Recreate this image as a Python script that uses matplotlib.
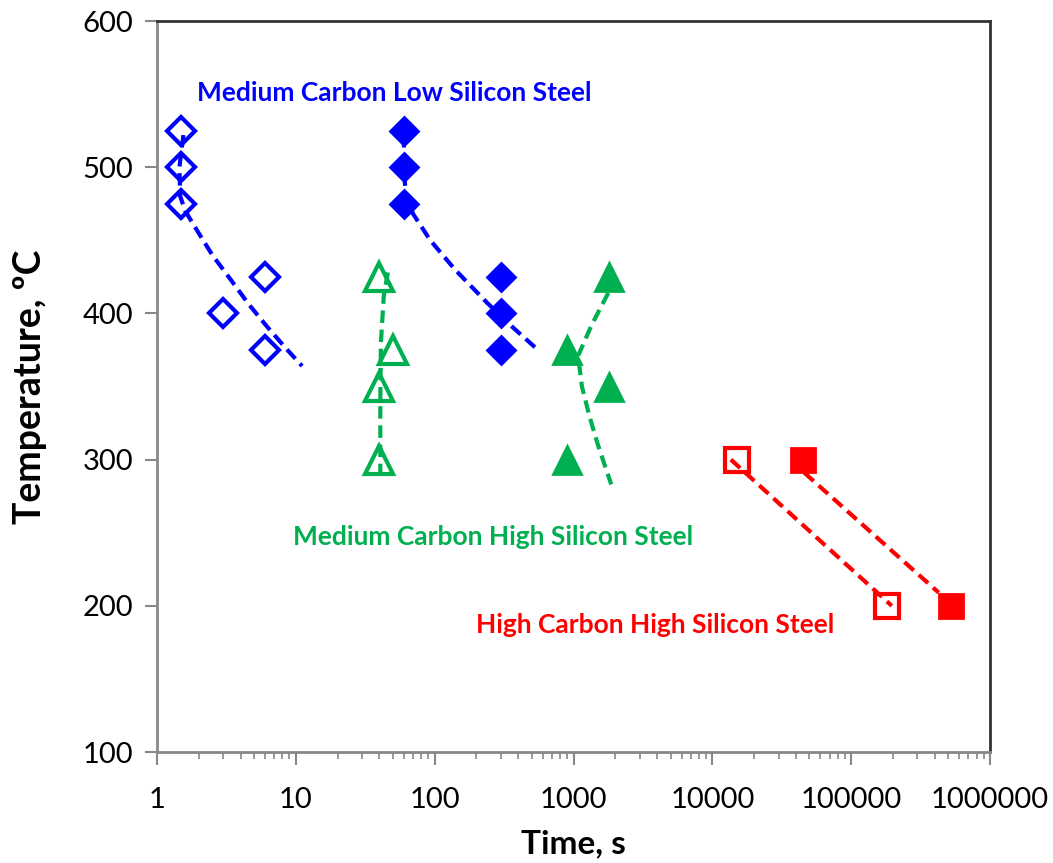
import numpy as np
import matplotlib
matplotlib.use('Agg')
import matplotlib.pyplot as plt
from matplotlib.ticker import LogLocator, FixedLocator, FuncFormatter

# Medium carbon, low silicon
mcls_open_t = [1.5, 1.5, 1.5, 3, 6, 6]
mcls_open_T = [525, 500, 475, 400, 425, 375]
mcls_fill_t = [60, 60, 60, 300, 300, 300]
mcls_fill_T = [525, 500, 475, 425, 400, 375]
# Medium carbon, high silicon
mchs_open_t = [40, 50, 40, 40]
mchs_open_T = [425, 375, 350, 300]
mchs_fill_t = [1800, 900, 1800, 900]
mchs_fill_T = [425, 375, 350, 300]
# High carbon, high silicon
hchs_open_t = [15000, 180000]
hchs_open_T = [300, 200]
hchs_fill_t = [45000, 520000]
hchs_fill_T = [300, 200]

# trend lines (dashed)
tr_mcls_open_t = [1.55, 1.45, 1.47, 1.6, 1.85, 2.5, 3.4, 4.6, 6.2, 8.5, 11.1]
tr_mcls_open_T = [522, 500, 480, 470, 460, 440, 423, 406, 391, 376, 364]
tr_mcls_fill_t = [60, 60, 62, 70, 93, 140, 240, 370, 540]
tr_mcls_fill_T = [522, 500, 480, 468, 450, 430, 407, 390, 376]
tr_mchs_open_t = [46, 43, 41, 40.6, 40.6]
tr_mchs_open_T = [428, 412, 380, 340, 291]
tr_mchs_fill_t = [1780, 1350, 1080, 1150, 1300, 1500, 1870]
tr_mchs_fill_T = [414, 392, 371, 350, 330, 310, 283]
tr_hchs_open_t = [13600, 196000]
tr_hchs_open_T = [300, 200]
tr_hchs_fill_t = [46000, 427000]
tr_hchs_fill_T = [291, 209]

blue = '#0000FF'
green = '#00B050'
red = '#FF0000'

plt.rcParams['font.family'] = ['Lato', 'DejaVu Sans']

fig = plt.figure(figsize=(10.53, 8.63), dpi=100)
ax = fig.add_axes([157/1053, 1-752/863, (990-157)/1053, (752-21)/863])

dash = dict(ls=(0, (3, 1.6)), lw=3)
ax.plot(tr_mcls_open_t, tr_mcls_open_T, color=blue, **dash)
ax.plot(tr_mcls_fill_t, tr_mcls_fill_T, color=blue, **dash)
ax.plot(tr_mchs_open_t, tr_mchs_open_T, color=green, **dash)
ax.plot(tr_mchs_fill_t, tr_mchs_fill_T, color=green, **dash)
ax.plot(tr_hchs_open_t, tr_hchs_open_T, color=red, **dash)
ax.plot(tr_hchs_fill_t, tr_hchs_fill_T, color=red, **dash)

ax.plot(mcls_open_t, mcls_open_T, 'D', ms=14, mfc='none', mec=blue, mew=3, ls='none')
ax.plot(mcls_fill_t, mcls_fill_T, 'D', ms=14, mfc=blue, mec=blue, mew=2, ls='none')
ax.plot(mchs_open_t, mchs_open_T, '^', ms=20, mfc='none', mec=green, mew=3, ls='none')
ax.plot(mchs_fill_t, mchs_fill_T, '^', ms=20, mfc=green, mec=green, mew=2, ls='none')
ax.plot(hchs_open_t, hchs_open_T, 's', ms=17, mfc='none', mec=red, mew=3, ls='none')
ax.plot(hchs_fill_t, hchs_fill_T, 's', ms=17, mfc=red, mec=red, mew=2, ls='none')

ax.text(1.95, 551, 'Medium Carbon Low Silicon Steel', color=blue, fontsize=19,
        fontweight='bold', va='center')
ax.text(9.6, 247, 'Medium Carbon High Silicon Steel', color=green, fontsize=19,
        fontweight='bold', va='center')
ax.text(198, 187, 'High Carbon High Silicon Steel', color=red, fontsize=19,
        fontweight='bold', va='center')

ax.set_xscale('log')
ax.set_xlim(1, 1e6)
ax.set_ylim(100, 600)
ax.yaxis.set_major_locator(FixedLocator([100, 200, 300, 400, 500, 600]))
ax.xaxis.set_major_locator(LogLocator(base=10, numticks=10))
ax.xaxis.set_minor_locator(LogLocator(base=10, subs=np.arange(2, 10), numticks=20))
ax.xaxis.set_major_formatter(FuncFormatter(lambda v, p: '%d' % round(v)))
ax.tick_params(axis='both', which='major', labelsize=21, color='#888888',
               length=9, width=1.5, direction='out')
ax.tick_params(axis='x', which='minor', color='#888888', length=5, width=1.2)
ax.tick_params(axis='x', which='major', pad=16)
ax.tick_params(axis='y', which='major', pad=8)

for s in ['left', 'bottom']:
    ax.spines[s].set_color('#888888')
    ax.spines[s].set_linewidth(2)
for s in ['top', 'right']:
    ax.spines[s].set_color('#333333')
    ax.spines[s].set_linewidth(2)

ax.set_xlabel('Time, s', fontsize=24, fontweight='bold', labelpad=12)
ax.set_ylabel('Temperature, ºC', fontsize=27, fontweight='bold', labelpad=26)

plt.savefig('out.png', dpi=100)
plt.close()
